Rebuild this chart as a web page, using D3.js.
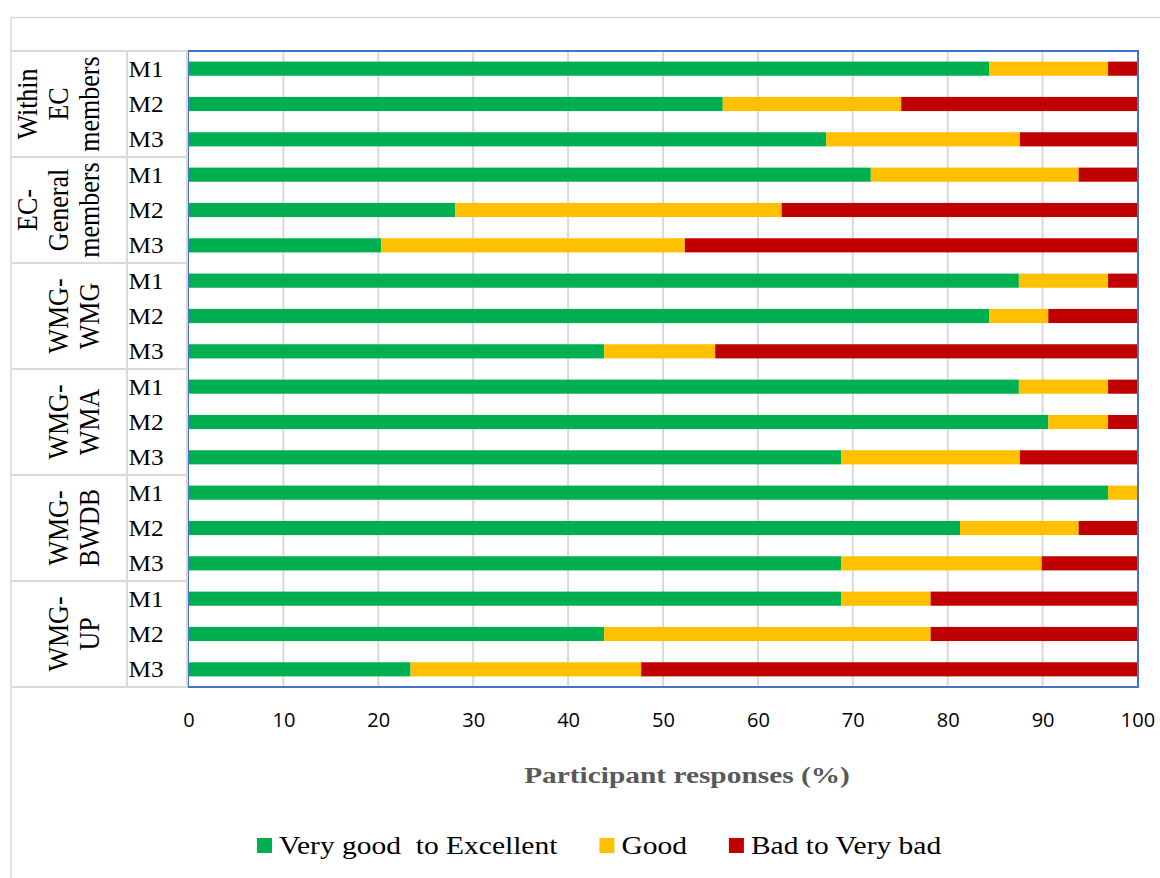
<!DOCTYPE html>
<html>
<head>
<meta charset="utf-8">
<script src="https://cdn.jsdelivr.net/npm/d3@7"></script>
<style>
  html, body { margin: 0; padding: 0; background: #fff; }
  svg { display: block; }
</style>
</head>
<body>
<svg id="chart" width="1160" height="878"></svg>
<script>
// Stakeholder groups (each broken over lines for the rotated labels)
const groups = [
  ["Within", "EC", "members"],
  ["EC-", "General", "members"],
  ["WMG-", "WMG"],
  ["WMG-", "WMA"],
  ["WMG-", "BWDB"],
  ["WMG-", "UP"]
];
const measures = ["M1", "M2", "M3"];

// Share of responses (%) per group × measure, top to bottom
const veryGood = [84.4, 56.3, 67.2, 71.9, 28.1, 20.3, 87.5, 84.4, 43.8, 87.5, 90.6, 68.8, 96.9, 81.3, 68.8, 68.8, 43.8, 23.4];
const good     = [12.5, 18.8, 20.4, 21.9, 34.4, 32.0,  9.4,  6.2, 11.7,  9.4,  6.3, 18.8,  3.1, 12.5, 21.1,  9.4, 34.4, 24.3];
const bad      = [ 3.1, 25.0, 12.4,  6.2, 37.5, 47.7,  3.1,  9.4, 44.5,  3.1,  3.1, 12.4,  0.0,  6.2, 10.1, 21.8, 21.8, 52.3];

const seriesNames = ["Very good  to Excellent", "Good", "Bad to Very bad"];
const seriesColors = ["#00B050", "#FFC000", "#C00000"];
const xTicks = [0, 10, 20, 30, 40, 50, 60, 70, 80, 90, 100];
const xTitle = "Participant responses (%)";

const svg = d3.select("#chart");
const plot = { left: 188, top: 51, right: 1138, bottom: 687 };
const gridGray = "#d9d9d9";

// rows: one per group × measure
const rows = [];
groups.forEach((g, gi) => measures.forEach((m, mi) => {
  const i = gi * measures.length + mi;
  rows.push({ id: i, group: gi, measure: m, vg: veryGood[i], g: good[i], b: bad[i] });
}));

const x = d3.scaleLinear().domain([0, 100]).range([plot.left + 0.5, plot.right - 0.5]);
const y = d3.scaleBand()
  .domain(rows.map(r => r.id))
  .range([plot.top, plot.bottom])
  .paddingInner(0.6)
  .paddingOuter(0.3);
const step = y.step();

// outer chart frame
svg.append("rect")
  .attr("x", 11).attr("y", 17.5).attr("width", 1200).attr("height", 900)
  .attr("fill", "none").attr("stroke", gridGray).attr("stroke-width", 1.5);

// vertical gridlines
svg.append("g")
  .selectAll("line")
  .data(xTicks.slice(1, -1))
  .join("line")
  .attr("x1", d => x(d)).attr("x2", d => x(d))
  .attr("y1", plot.top).attr("y2", plot.bottom)
  .attr("stroke", gridGray).attr("stroke-width", 2);

// stacked bars
const stack = d3.stack().keys(["vg", "g", "b"]);
const layers = stack(rows);
svg.append("g")
  .selectAll("g")
  .data(layers)
  .join("g")
  .attr("fill", (d, i) => seriesColors[i])
  .selectAll("rect")
  .data(d => d)
  .join("rect")
  .attr("x", d => x(d[0]))
  .attr("width", d => Math.max(0, x(d[1]) - x(d[0])))
  .attr("y", d => y(d.data.id))
  .attr("height", y.bandwidth());

// plot area border
svg.append("rect")
  .attr("x", plot.left).attr("y", plot.top)
  .attr("width", plot.right - plot.left).attr("height", plot.bottom - plot.top)
  .attr("fill", "none").attr("stroke", "#4472C4").attr("stroke-width", 2);

// category table lines (multi-level axis)
const table = svg.append("g").attr("stroke", gridGray).attr("stroke-width", 2);
const groupEdges = d3.range(groups.length + 1).map(k => plot.top + k * measures.length * step);
table.selectAll("line.h")
  .data(groupEdges)
  .join("line")
  .attr("class", "h")
  .attr("x1", 11).attr("x2", plot.left)
  .attr("y1", d => d).attr("y2", d => d);
table.append("line")
  .attr("x1", 127).attr("x2", 127).attr("y1", plot.top).attr("y2", plot.bottom);
table.append("line")
  .attr("x1", plot.left - 1).attr("x2", plot.left - 1).attr("y1", plot.top).attr("y2", plot.bottom);

// measure labels
svg.append("g")
  .selectAll("text")
  .data(rows)
  .join("text")
  .attr("transform", d => `translate(146,${y(d.id) + y.bandwidth() / 2}) scale(1.1,1)`)
  .attr("dy", "0.34em")
  .attr("text-anchor", "middle")
  .attr("font-family", "'Liberation Serif', 'Times New Roman', serif")
  .attr("font-size", 23)
  .attr("fill", "#000")
  .text(d => d.measure);

// rotated group labels
const lineGap = 31;
const gLabels = svg.append("g");
groups.forEach((lines, gi) => {
  const cy = (groupEdges[gi] + groupEdges[gi + 1]) / 2;
  lines.forEach((ln, li) => {
    const cx = 89 - (lines.length - 1 - li) * lineGap;
    gLabels.append("text")
      .attr("transform", `translate(${cx},${cy}) scale(1.1,1) rotate(-90)`)
      .attr("dy", "0.34em")
      .attr("text-anchor", "middle")
      .attr("font-family", "'Liberation Serif', 'Times New Roman', serif")
      .attr("font-size", 26)
      .attr("fill", "#000")
      .text(ln);
  });
});

// x axis labels
const xAxis = d3.axisBottom(x).tickValues(xTicks).tickSize(0).tickPadding(26);
const ax = svg.append("g")
  .attr("transform", `translate(0,${plot.bottom})`)
  .call(xAxis);
ax.select(".domain").remove();
ax.selectAll("text")
  .attr("font-family", "'Open Sans', 'Liberation Sans', sans-serif")
  .attr("font-size", 20)
  .attr("fill", "#000");

// axis title
svg.append("text")
  .attr("transform", "translate(687,783) scale(1.25,1)")
  .attr("text-anchor", "middle")
  .attr("font-family", "'Liberation Serif', 'Times New Roman', serif")
  .attr("font-weight", "bold")
  .attr("font-size", 23.5)
  .attr("fill", "#595959")
  .text(xTitle);

// legend
const legend = svg.append("g");
let lx = 257;
seriesNames.forEach((name, i) => {
  legend.append("rect")
    .attr("x", lx).attr("y", 838).attr("width", 15).attr("height", 15)
    .attr("fill", seriesColors[i]);
  const t = legend.append("text")
    .attr("transform", `translate(${lx + 22},854) scale(1.18,1)`)
    .attr("font-family", "'Liberation Serif', 'Times New Roman', serif")
    .attr("font-size", 25)
    .attr("fill", "#000")
    .attr("xml:space", "preserve")
    .style("white-space", "pre")
    .text(name);
  const w = t.node().getComputedTextLength() * 1.18;
  lx = lx + 22 + w + 42;
});
</script>
</body>
</html>
